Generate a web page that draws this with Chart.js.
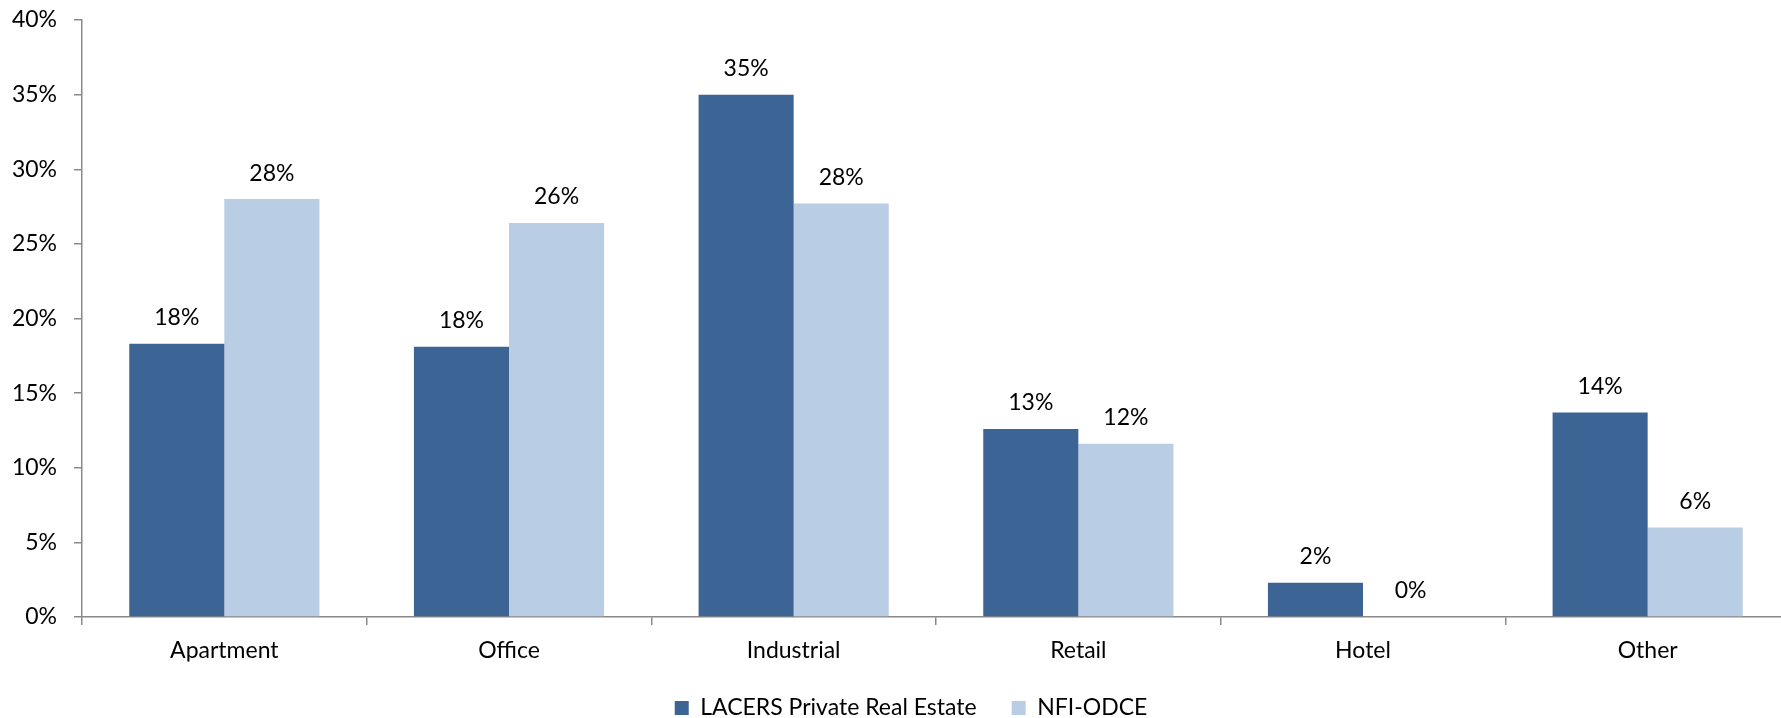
<!DOCTYPE html>
<html>
<head>
<meta charset="utf-8">
<script src="https://cdn.jsdelivr.net/npm/chart.js@4/dist/chart.umd.min.js"></script>
<style>
  html, body { margin: 0; padding: 0; background: #fff; overflow: hidden; }
  /* the canvas is a bit wider than the window: the category axis runs past the right edge */
  #wrap { width: 1781px; height: 718px; overflow: hidden; }
</style>
</head>
<body>
<div id="wrap"><canvas id="sector-chart" width="1790" height="718"></canvas></div>
<script>
// data
const categories = ['Apartment', 'Office', 'Industrial', 'Retail', 'Hotel', 'Other'];
const lacers = [18.3, 18.1, 35.0, 12.6, 2.3, 13.7];
const odce = [28.0, 26.4, 27.7, 11.6, 0.0, 6.0];
const yTicks = [0, 5, 10, 15, 20, 25, 30, 35, 40];

Chart.defaults.font.family = 'Lato';
Chart.defaults.font.size = 23;
Chart.defaults.color = '#000';

const axisGrey = '#898989';

// value labels above each bar
const barLabels = {
    id: 'barLabels',
    afterDatasetsDraw(chart) {
        const ctx = chart.ctx;
        ctx.save();
        ctx.font = '23px Lato';
        ctx.fillStyle = '#000';
        ctx.textAlign = 'center';
        ctx.textBaseline = 'middle';
        chart.data.datasets.forEach((ds, i) => {
            chart.getDatasetMeta(i).data.forEach((bar, j) => {
                ctx.fillText(Math.round(ds.data[j]) + '%', bar.x, bar.y - 26);
            });
        });
        ctx.restore();
    }
};

// legend in the original sits a little right of the canvas centre
const legendNudge = {
    id: 'legendNudge',
    afterLayout(chart) {
        chart.legend.left += 16;
        chart.legend.right += 16;
    }
};

const data = {
    labels: categories,
    datasets: [{
        label: 'LACERS Private Real Estate',
        data: lacers,
        backgroundColor: '#3c6494'
    },
    {
        label: 'NFI-ODCE',
        data: odce,
        backgroundColor: '#b9cde5'
    }]
};

const config = {
    type: 'bar',
    data,
    options: {
        responsive: false,
        animation: false,
        layout: {
            padding: { left: 0, top: 20, right: 0, bottom: -11.5 }
        },
        datasets: {
            bar: {
                barPercentage: 1,
                categoryPercentage: 0.668
            }
        },
        plugins: {
            legend: {
                position: 'bottom',
                labels: {
                    boxWidth: 14,
                    boxHeight: 14,
                    padding: 35,
                    font: { size: 23 }
                }
            },
            tooltip: { enabled: false }
        },
        scales: {
            x: {
                afterFit(scale) {
                    scale.height = 44.5;
                    scale.paddingLeft = 0;
                    scale.paddingRight = 0;
                },
                border: { color: axisGrey, width: 1.5 },
                grid: {
                    drawOnChartArea: false,
                    color: axisGrey,
                    tickLength: 8,
                    lineWidth: 1.5
                },
                ticks: { padding: 12 }
            },
            y: {
                min: 0,
                max: 40,
                afterFit(scale) {
                    scale.width = 82;
                    scale.paddingTop = 0;
                    scale.paddingBottom = 0;
                },
                afterBuildTicks(scale) {
                    scale.ticks = yTicks.map(v => ({ value: v }));
                },
                border: { color: axisGrey, width: 1.5 },
                grid: {
                    drawOnChartArea: false,
                    color: axisGrey,
                    tickLength: 8,
                    lineWidth: 1.5
                },
                ticks: {
                    padding: 17,
                    callback: v => v + '%'
                }
            }
        }
    },
    plugins: [barLabels, legendNudge]
};

const sectorChart = new Chart(document.getElementById('sector-chart'), config);
</script>
</body>
</html>
